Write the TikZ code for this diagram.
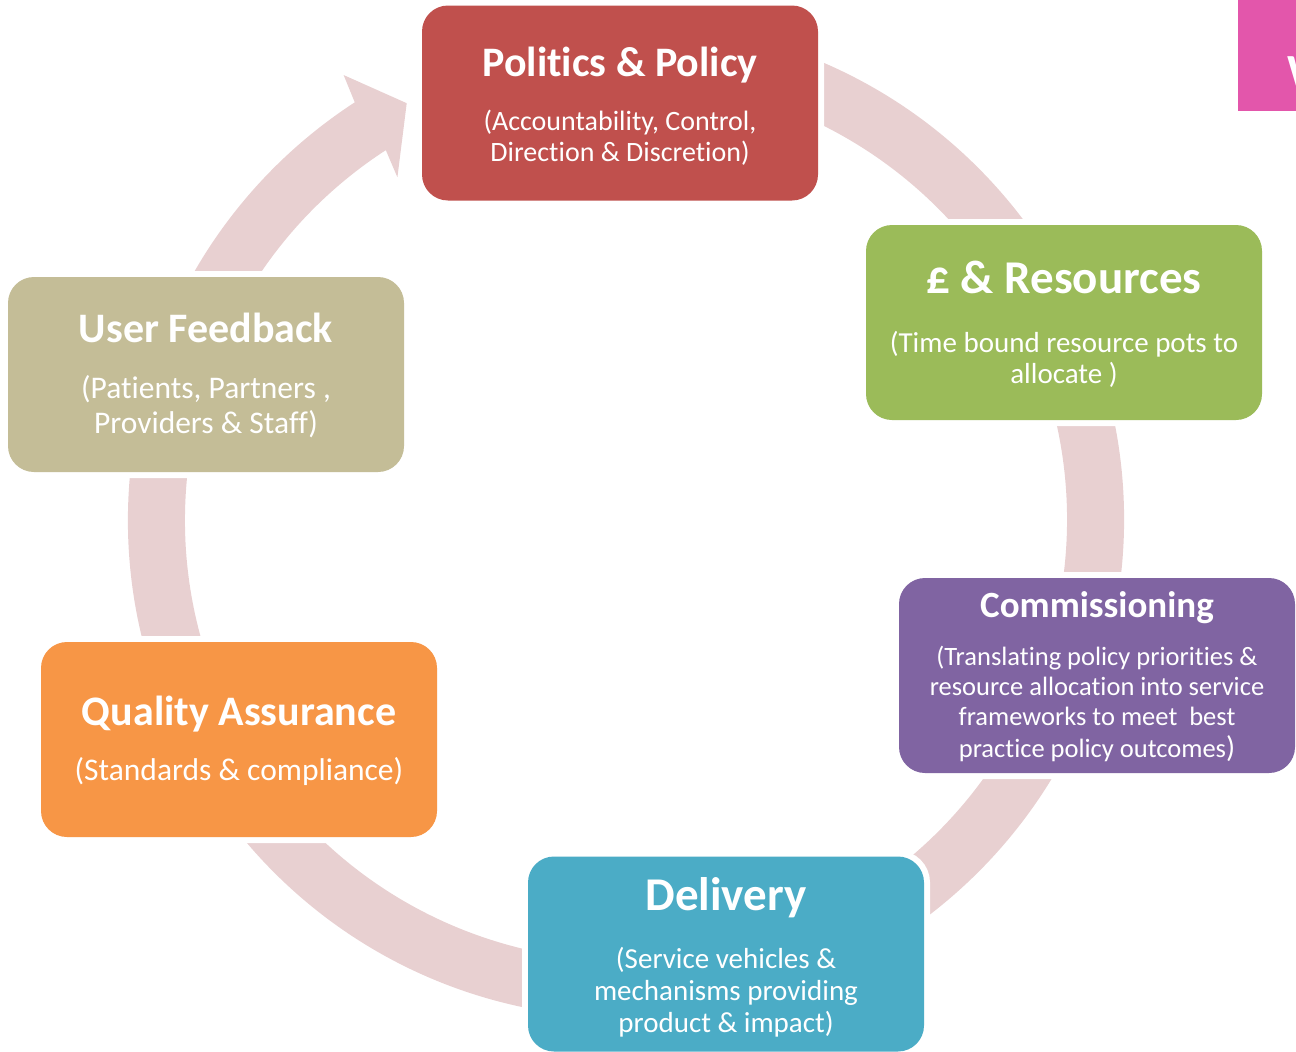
\documentclass[tikz,border=0pt]{standalone}
\usepackage{fontspec}
\setmainfont{Carlito}[Ligatures=NoCommon]
\usetikzlibrary{calc}
\definecolor{ringc}{HTML}{E8D0D1}
\definecolor{pinkc}{HTML}{E356AB}
\definecolor{polc}{HTML}{C0504D}
\definecolor{resc}{HTML}{9BBB59}
\definecolor{comc}{HTML}{8064A2}
\definecolor{delc}{HTML}{4BACC6}
\definecolor{qac}{HTML}{F79646}
\definecolor{ufc}{HTML}{C4BD97}
\begin{document}
\begin{tikzpicture}[x=1pt,y=-1pt,
  box/.style={rectangle, rounded corners=26pt, minimum width=396pt, minimum height=195pt,
    inner sep=0pt, outer sep=0pt, preaction={draw=white, line width=12pt}},
  ttl/.style={anchor=base, text=white, inner sep=0pt, font=\bfseries\fontsize{#1}{#1}\selectfont},
  sub/.style={anchor=base, text=white, inner sep=0pt, font=\fontsize{#1}{#1}\selectfont}]
\useasboundingbox (0,0) rectangle (1296,1052);
\coordinate (c) at (626,520);
% ring with arrow head
\fill[ringc] ($(c)+(-80:498)$) arc[start angle=-80, end angle=237, radius=498]
  -- ($(c)+(237.6:527)$) -- ($(c)+(242.25:471)$) -- ($(c)+(236.3:412)$) -- ($(c)+(237:441)$)
  arc[start angle=237, end angle=-80, radius=441] -- cycle;
% pink corner
\fill[pinkc] (1238,0) rectangle (1296,111);
\begin{scope}
  \clip (1238,0) rectangle (1296,111);
  \node[ttl=46, anchor=base west] (wlet) at (1287,86) {W};
\end{scope}
% Politics & Policy
\node[box, fill=polc] (pol) at (620,103) {};
\node[ttl=42] (polt) at (620,76) {Politics \& Policy};
\node[sub=28] (pols1) at (620,130) {(Accountability, Control,};
\node[sub=28] (pols2) at (620,161) {Direction \& Discretion)};
% Resources
\node[box, fill=resc] (res) at (1064,322.5) {};
\node[ttl=47] (rest) at (1064,293) {£ \& Resources};
\node[sub=29] (ress1) at (1064,352) {(Time bound resource pots to};
\node[sub=29] (ress2) at (1064,383) {allocate )};
% Commissioning
\node[box, fill=comc] (com) at (1097,675.5) {};
\node[ttl=37] (comt) at (1097,617) {Commissioning};
\node[sub=26.5] (coms1) at (1097,665) {(Translating policy priorities \&};
\node[sub=26.5] (coms2) at (1097,695) {resource allocation into service};
\node[sub=26.5] (coms3) at (1097,725) {frameworks to meet\ \ best};
\node[sub=26.5] (coms4) at (1097,757) {practice policy outcomes{\fontsize{30}{30}\selectfont)}};
% Delivery
\node[box, fill=delc] (del) at (726,954) {};
\node[ttl=47] (delt) at (726,910) {Delivery};
\node[sub=29] (dels1) at (726,968) {(Service vehicles \&};
\node[sub=29] (dels2) at (726,1000) {mechanisms providing};
\node[sub=29] (dels3) at (726,1032) {product \& impact)};
% Quality Assurance
\node[box, fill=qac] (qa) at (239,739.5) {};
\node[ttl=42] (qat) at (239,725) {Quality Assurance};
\node[sub=31.5] (qas1) at (239,780) {(Standards \& compliance)};
% User Feedback
\node[box, fill=ufc] (uf) at (206,374.5) {};
\node[ttl=42] (uft) at (206,342) {User Feedback};
\node[sub=31.5] (ufs1) at (206,398) {(Patients, Partners ,};
\node[sub=31.5] (ufs2) at (206,433) {Providers \& Staff)};
\end{tikzpicture}
\end{document}
